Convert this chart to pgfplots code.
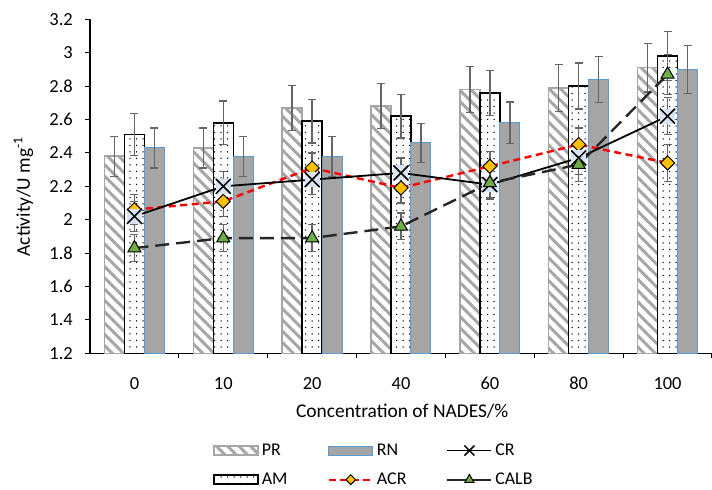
\documentclass[border=0pt]{standalone}
\usepackage{pgfplots}
\pgfplotsset{compat=1.18}
\usepackage{pgfplotstable}
\usepackage{fontspec}
\setmainfont{Carlito}
\usetikzlibrary{patterns.meta}
\definecolor{prgray}{HTML}{A6A6A6}
\definecolor{rnfill}{HTML}{A5A5A5}
\definecolor{rnedge}{HTML}{5B9BD5}
\definecolor{errgray}{HTML}{656565}
\definecolor{xfill}{HTML}{DAE3F3}
\definecolor{acrfill}{HTML}{FFC000}
\definecolor{calbfill}{HTML}{70AD47}
\definecolor{calbline}{HTML}{262626}

\pgfdeclareplotmark{xbox}{%
 \pgfpathrectangle{\pgfqpoint{-\pgfplotmarksize}{-\pgfplotmarksize}}{\pgfqpoint{2\pgfplotmarksize}{2\pgfplotmarksize}}%
 \pgfsetfillcolor{xfill}\pgfusepath{fill}%
 \pgfpathmoveto{\pgfqpoint{-\pgfplotmarksize}{-\pgfplotmarksize}}\pgfpathlineto{\pgfqpoint{\pgfplotmarksize}{\pgfplotmarksize}}%
 \pgfpathmoveto{\pgfqpoint{-\pgfplotmarksize}{\pgfplotmarksize}}\pgfpathlineto{\pgfqpoint{\pgfplotmarksize}{-\pgfplotmarksize}}%
 \pgfusepath{stroke}}
\pgfdeclareplotmark{xonly}{%
 \pgfpathmoveto{\pgfqpoint{-\pgfplotmarksize}{-\pgfplotmarksize}}\pgfpathlineto{\pgfqpoint{\pgfplotmarksize}{\pgfplotmarksize}}%
 \pgfpathmoveto{\pgfqpoint{-\pgfplotmarksize}{\pgfplotmarksize}}\pgfpathlineto{\pgfqpoint{\pgfplotmarksize}{-\pgfplotmarksize}}%
 \pgfusepath{stroke}}

\pgfplotsset{
  barlegend/.style={legend image code/.code={\draw[##1] (0bp,-4.5bp) rectangle (44bp,4.5bp);}},
  linelegend/.style={legend image code/.code={\draw[mark repeat=2,mark phase=2,##1,every mark/.append style={scale=0.7}] plot coordinates {(0bp,0bp) (22bp,0bp) (44bp,0bp)};}},
  crlegend/.style={legend image code/.code={\draw[##1,solid] (0bp,0bp) -- (44bp,0bp); \draw[black, line width=1.5bp] (17bp,-5bp) -- (27bp,5bp) (17bp,5bp) -- (27bp,-5bp);}},
  calblegend/.style={legend image code/.code={\draw[mark repeat=2,mark phase=2,##1,solid,line width=1.8bp,every mark/.append style={scale=0.7}] plot coordinates {(0bp,0bp) (22bp,0bp) (44bp,0bp)};}},
  errb/.style={error bars/.cd, y dir=both, y explicit,
    error bar style={solid, errgray, line width=1.3bp},
    error mark options={solid, rotate=90, errgray, mark size=4bp, line width=1.3bp}},
}

\pgfplotstableread{
x y e
0 2.38 0.12
1 2.43 0.12
2 2.67 0.135
3 2.68 0.135
4 2.78 0.138
5 2.79 0.14
6 2.91 0.146
}\PR
\pgfplotstableread{
x y e
0 2.51 0.125
1 2.58 0.13
2 2.59 0.13
3 2.62 0.13
4 2.76 0.135
5 2.80 0.138
6 2.98 0.148
}\AM
\pgfplotstableread{
x y e
0 2.43 0.12
1 2.38 0.12
2 2.38 0.12
3 2.46 0.118
4 2.58 0.124
5 2.84 0.139
6 2.90 0.143
}\RN
\pgfplotstableread{
x y e
0 2.06 0.09
1 2.11 0.09
2 2.31 0.09
3 2.19 0.09
4 2.32 0.09
5 2.45 0.1
6 2.34 0.11
}\ACR
\pgfplotstableread{
x y e
0 2.02 0.09
1 2.20 0.09
2 2.24 0.09
3 2.28 0.09
4 2.21 0.09
5 2.37 0.1
6 2.62 0.11
}\CR
\pgfplotstableread{
x y e
0 1.83 0.08
1 1.89 0.08
2 1.89 0.08
3 1.96 0.08
4 2.22 0.09
5 2.33 0.1
6 2.87 0.12
}\CALB

\begin{document}
\begin{tikzpicture}
\path[use as bounding box] (-90bp,-136.7bp) rectangle (622bp,353.3bp);
\begin{axis}[
  at={(0,0)}, anchor=south west,
  scale only axis, width=622bp, height=334bp,
  ybar, bar width=20bp,
  xmin=-0.5, xmax=6.5, ymin=1.2, ymax=3.2,
  axis lines=left,
  axis line style={-, line width=1.2bp, black},
  every outer x axis line/.append style={-},
  every outer y axis line/.append style={-},
  xtick={0,...,6}, xticklabels={0,10,20,40,60,80,100},
  major x tick style={draw=none},
  minor xtick={0.5,1.5,...,6.5},
  ytick distance=0.2,
  tick align=outside,
  major tick length=5bp, minor tick length=5bp,
  tick style={black, line width=1bp},
  /pgf/number format/assume math mode=true,
  tick label style={font=\fontsize{18.5}{22}\selectfont, black},
  xticklabel style={anchor=base, yshift=-31bp},
  yticklabel style={inner sep=0pt, xshift=-12bp},
  xlabel={Concentration of NADES/\%},
  ylabel={Activity/U mg\textsuperscript{-1}},
  label style={font=\fontsize{19.5}{23}\selectfont},
  xlabel style={at={(axis description cs:0.502,-0.1916)}, anchor=base},
  ylabel style={at={(axis description cs:-0.107,0.469)}, anchor=center},
  transpose legend, legend columns=2,
  legend cell align=left,
  legend style={at={(axis description cs:0.198,-0.262)}, anchor=north west,
    draw=none, fill=none, inner sep=0pt, row sep=10bp,
    font=\fontsize{18}{21}\selectfont,
    nodes={inner sep=3bp},
    /tikz/every even column/.append style={column sep=37bp}},
]
% bars
\addplot[ybar, bar shift=-20bp, draw=prgray, line width=1.5bp,
  pattern={Lines[angle=-45,distance=8bp,line width=3bp]}, pattern color=prgray,
  barlegend, errb] table[x=x,y=y,y error=e]{\PR};
\addplot[ybar, bar shift=0bp, draw=black, line width=1.5bp,
  pattern={Dots[distance=6.5bp,radius=0.75bp]}, pattern color=black,
  barlegend, errb] table[x=x,y=y,y error=e]{\AM};
\addplot[ybar, bar shift=20bp, draw=rnedge, line width=1bp,
  fill=rnfill, barlegend, errb] table[x=x,y=y,y error=e]{\RN};
% lines
\addplot[sharp plot, bar shift=0bp, red, line width=2.4bp, dash pattern=on 7bp off 4.5bp,
  mark=square*, mark size=5bp,
  mark options={solid, rotate=45, fill=acrfill, draw=black, line width=1bp},
  linelegend, errb] table[x=x,y=y,y error=e]{\ACR};
\addplot[sharp plot, bar shift=0bp, black, line width=1.8bp,
  mark=xbox, mark size=7.5bp,
  mark options={solid, draw=black, line width=1.5bp},
  crlegend, errb] table[x=x,y=y,y error=e]{\CR};
\addplot[sharp plot, bar shift=0bp, calbline, line width=2.4bp, dash pattern=on 14bp off 7bp,
  mark=triangle*, mark size=7.5bp,
  mark options={solid, fill=calbfill, draw=black, line width=1bp},
  calblegend, errb] table[x=x,y=y,y error=e]{\CALB};
\legend{PR, AM, RN, ACR, CR, CALB}
\end{axis}
\end{tikzpicture}
\end{document}
